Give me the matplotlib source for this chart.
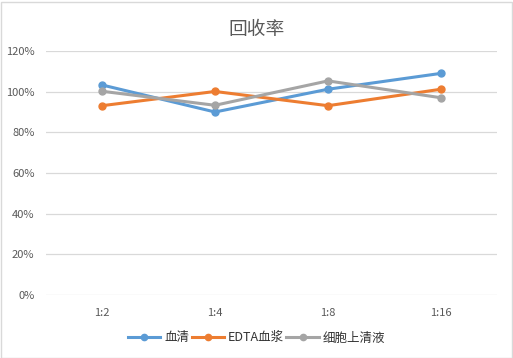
import matplotlib
matplotlib.use("Agg")
import matplotlib.pyplot as plt
from matplotlib.patches import Rectangle
from matplotlib.ticker import FuncFormatter

plt.rcParams['font.family'] = ['Noto Sans CJK SC', 'DejaVu Sans']

categories = ["1:2", "1:4", "1:8", "1:16"]
serum = [103.3, 90.0, 101.2, 109.0]
edta_plasma = [93.1, 100.1, 93.1, 101.2]
supernatant = [100.2, 93.3, 105.3, 97.0]

series_names = ["血清", "EDTA血浆", "细胞上清液"]
colors = ["#5b9bd5", "#ed7d31", "#a5a5a5"]

fig = plt.figure(figsize=(5.13, 3.58), dpi=100)
ax = fig.add_axes([45.5 / 513, 63 / 358, 452 / 513, 244 / 358])

x = range(len(categories))
for vals, name, c in zip([serum, edta_plasma, supernatant], series_names, colors):
    ax.plot(x, vals, color=c, lw=2.2, marker="o", ms=5, label=name)

ax.set_xlim(-0.5, len(categories) - 0.5)
ax.set_ylim(0, 120)
ax.set_yticks(range(0, 121, 20))
ax.yaxis.set_major_formatter(FuncFormatter(lambda v, p: f"{v:.0f}%"))
ax.set_xticks(list(x))
ax.set_xticklabels(categories)
ax.grid(axis="y", color="#d9d9d9", lw=0.9)
ax.set_axisbelow(True)
for s in ax.spines.values():
    s.set_visible(False)
ax.tick_params(length=0, labelsize=8, colors="#595959")
ax.tick_params(axis="x", pad=9)
ax.tick_params(axis="y", pad=8)

fig.text(0.5, 1 - 30 / 358, "回收率", ha="center", va="center", fontsize=13.5,
         color="#595959", fontweight="light")

leg = fig.legend(loc="center", bbox_to_anchor=(0.5, 1 - 338 / 358), ncol=3, frameon=False,
                 fontsize=9, handlelength=2.6, columnspacing=0.2, handletextpad=0.3,
                 markerscale=0.9)
for t in leg.get_texts():
    t.set_color("#333333")

fig.patches.append(Rectangle((0.5 / 513, 0.5 / 358), 511 / 513, 356 / 358, transform=fig.transFigure,
                             fill=False, edgecolor="#d9d9d9", lw=1))

fig.savefig("out.png", dpi=100)
